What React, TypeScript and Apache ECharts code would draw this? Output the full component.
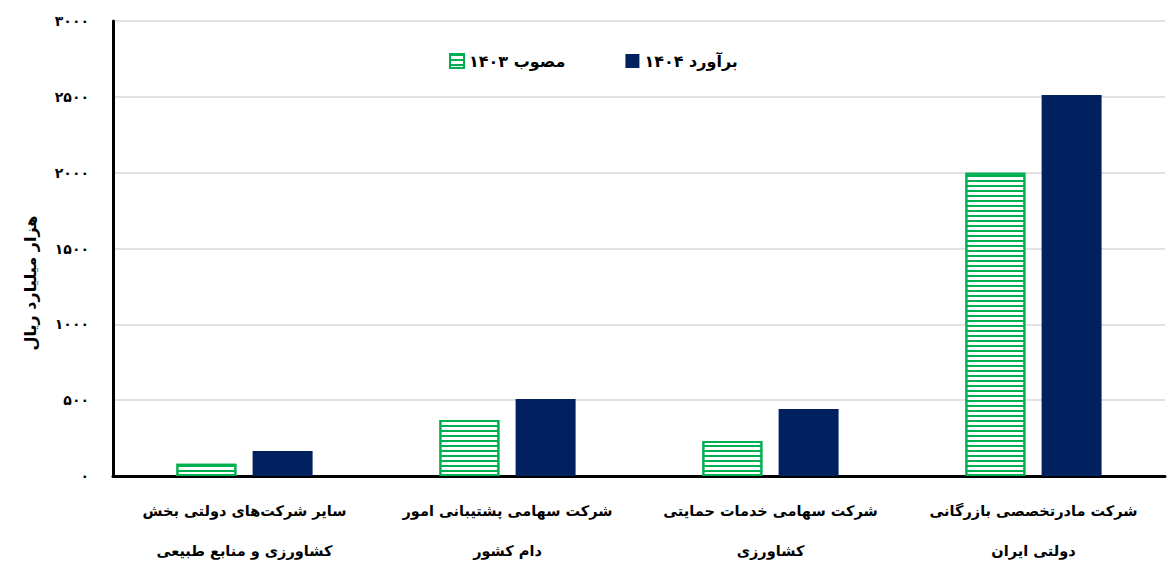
import React, { useEffect, useRef } from "react";
import * as echarts from "echarts";

const categories = [
  "سایر شرکت‌های دولتی بخش\nکشاورزی و منابع طبیعی",
  "شرکت سهامی پشتیبانی امور\nدام کشور",
  "شرکت سهامی خدمات حمایتی\nکشاورزی",
  "شرکت مادرتخصصی بازرگانی\nدولتی ایران",
];
const approved1403 = [80, 370, 230, 2000];
const estimate1404 = [165, 508, 442, 2512];
const seriesNames = ["مصوب ۱۴۰۳", "برآورد ۱۴۰۴"];
const yAxisName = "هزار میلیارد ریال";

const toFa = (v: number | string) =>
  String(v).replace(/[0-9]/g, (d) => "۰۱۲۳۴۵۶۷۸۹"[Number(d)]);

const FONT = "DejaVu Sans";

export default function App() {
  const ref = useRef<HTMLDivElement>(null);
  useEffect(() => {
    document.body.style.margin = "0";
    const chart = echarts.init(ref.current!, null, { renderer: "svg" });
    const green = "#00B050";
    const navy = "#002060";
    chart.setOption({
      animation: false,
      textStyle: { fontFamily: FONT },
      legend: {
        left: 444,
        top: 48,
        icon: "rect",
        itemWidth: 14,
        itemHeight: 14,
        itemGap: 60,
        textStyle: { fontFamily: FONT, fontSize: 16, fontWeight: "bold", color: "#000" },
        data: seriesNames,
      },
      graphic: [
        {
          type: "text",
          x: 30,
          y: 283,
          rotation: Math.PI / 2,
          style: {
            text: yAxisName,
            fontFamily: FONT,
            fontSize: 16,
            fontWeight: "bold",
            fill: "#000",
            align: "center",
            verticalAlign: "middle",
          },
        },
      ],
      grid: { left: 113, right: 2, top: 21, bottom: 89, outerBoundsMode: "none", containLabel: false },
      xAxis: {
        type: "category",
        data: categories,
        axisLine: { lineStyle: { color: "#000", width: 3 } },
        axisTick: { show: false },
        axisLabel: {
          interval: 0,
          margin: 15,
          fontFamily: FONT,
          fontSize: 14.5,
          fontWeight: "bold",
          color: "#000",
          lineHeight: 40,
        },
      },
      yAxis: {
        type: "value",
        min: 0,
        max: 3000,
        interval: 500,
        axisLine: { show: true, lineStyle: { color: "#000", width: 3 } },
        axisTick: { show: false },
        splitLine: { lineStyle: { color: "#d9d9d9", width: 1.5 } },
        axisLabel: {
          margin: 24,
          fontFamily: FONT,
          fontSize: 14,
          fontWeight: "bold",
          color: "#000",
          formatter: (v: number) => toFa(v),
        },
      },
      series: [
        {
          name: seriesNames[0],
          type: "bar",
          data: approved1403,
          barWidth: 60,
          barGap: "27%",
          itemStyle: {
            color: "#ffffff",
            borderColor: green,
            borderWidth: 2,
            decal: {
              symbol: "rect",
              symbolSize: 1,
              color: green,
              dashArrayX: [1, 0],
              dashArrayY: [1.5, 2.5],
              rotation: 0,
            },
          },
        },
        {
          name: seriesNames[1],
          type: "bar",
          data: estimate1404,
          barWidth: 60,
          itemStyle: { color: navy },
        },
      ],
    });
    return () => chart.dispose();
  }, []);
  return <div ref={ref} style={{ width: 1167, height: 565 }} />;
}
